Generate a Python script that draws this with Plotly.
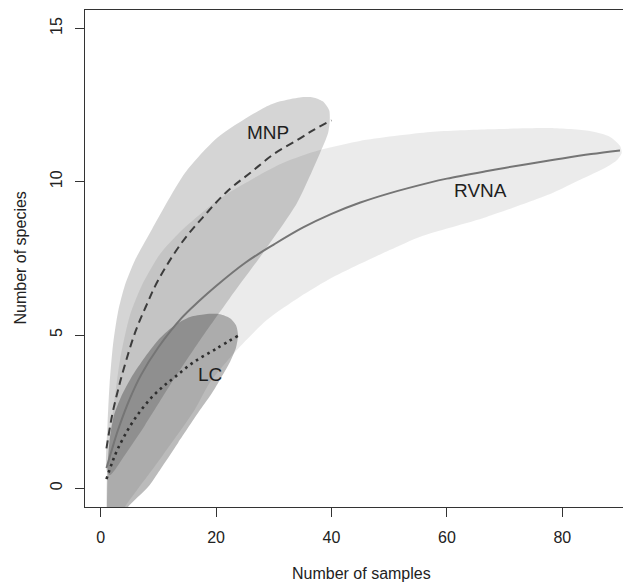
import plotly.graph_objects as go

# ---- data ----
# mean species accumulation curves
rvna_x = [1, 2, 3, 5, 7, 10, 14, 17, 20, 25, 30, 35, 40, 45, 50, 57, 60, 67, 70, 78, 80, 85, 90]
rvna_y = [0.66, 1.3, 1.9, 2.9, 3.7, 4.6, 5.55, 6.1, 6.6, 7.35, 7.95, 8.5, 8.95, 9.32, 9.62, 9.97, 10.1, 10.35, 10.45, 10.7, 10.76, 10.9, 11.02]

mnp_x = [1, 2, 3, 4, 6, 8, 10, 14, 18, 22, 26, 30, 34, 37, 40]
mnp_y = [1.3, 2.4, 3.2, 3.9, 5.1, 6.0, 6.8, 8.0, 8.9, 9.7, 10.3, 10.9, 11.35, 11.7, 12.0]

lc_x = [1, 2, 3, 5, 7, 9, 11, 13, 16, 20, 24]
lc_y = [0.3, 0.85, 1.3, 2.0, 2.55, 3.0, 3.35, 3.65, 4.1, 4.55, 5.0]

# confidence envelopes (outline)
rvna_band_x = [0.92, 1.09, 1.96, 3.34, 5.08, 7.16, 10.28, 13.74, 18.07, 22.41, 31.07, 36.8, 44.9, 57.1, 67.5, 77.9, 84.8, 88.3, 90.0, 90.3,
               89.5, 87.7, 83.1, 78.4, 66.9, 55.3, 50.1, 40.3, 34.5, 28.8, 23.6, 18.9, 16.3, 10.6, 4.2, 1.96, 0.92]
rvna_band_y = [-0.54, 0.6, 2.22, 4.18, 5.65, 6.63, 7.64, 8.36, 9.07, 9.66, 10.57, 10.97, 11.33, 11.62, 11.71, 11.75, 11.65, 11.46, 11.17, 10.94,
               10.71, 10.48, 10.06, 9.64, 8.85, 8.2, 7.77, 6.89, 6.24, 5.49, 4.51, 3.44, 2.56, 1.03, -0.61, -1.36, -1.36]

mnp_band_x = [1.0, 1.18, 1.53, 2.13, 3.0, 4.21, 5.94, 8.89, 14.6, 20.3, 28.5, 31.1, 34.5, 36.8, 38.5, 39.6, 39.7, 39.4,
              38.0, 34.0, 28.1, 22.4, 17.21, 12.01, 7.68, 4.21, 1.61, 1.0]
mnp_band_y = [0.6, 2.07, 3.37, 4.67, 5.75, 6.63, 7.44, 8.45, 10.28, 11.45, 12.43, 12.62, 12.75, 12.75, 12.62, 12.33, 12.0, 11.58,
              10.93, 9.3, 7.67, 6.21, 4.83, 3.36, 2.06, 1.09, 0.43, 0.6]

lc_band_x = [1.09, 1.18, 1.53, 2.31, 3.52, 5.25, 7.68, 10.28, 12.88, 15.48, 18.08, 20.68, 22.41, 23.45, 23.8,
             23.45, 22.41, 20.85, 19.29, 17.21, 13.4, 10.28, 8.2, 4.73, 3.34, 1.09]
lc_band_y = [-0.54, 0.6, 1.57, 2.39, 2.98, 3.6, 4.28, 4.9, 5.33, 5.59, 5.68, 5.68, 5.55, 5.32, 5.0,
             4.58, 4.12, 3.6, 3.11, 2.55, 1.48, 0.6, 0.04, -0.61, -1.03, -1.03]

labels = ["MNP", "RVNA", "LC"]
label_x = [29.0, 65.8, 19.0]
label_y = [11.6, 9.7, 3.7]

x_ticks = [0, 20, 40, 60, 80]
y_ticks = [0, 5, 10, 15]

FONT = "Liberation Sans, Arial, sans-serif"

fig = go.Figure()

# envelopes
for bx, by, col in [
    (rvna_band_x, rvna_band_y, "rgba(0,0,0,0.08)"),
    (mnp_band_x, mnp_band_y, "rgba(0,0,0,0.165)"),
    (lc_band_x, lc_band_y, "rgba(0,0,0,0.265)"),
]:
    fig.add_trace(go.Scatter(x=bx, y=by, mode="lines", fill="toself", fillcolor=col,
                             line=dict(width=0, shape="spline", smoothing=0.7),
                             hoverinfo="skip", showlegend=False))

# mean curves
fig.add_trace(go.Scatter(x=rvna_x, y=rvna_y, mode="lines",
                         line=dict(color="#757575", width=2, shape="spline"), showlegend=False))
fig.add_trace(go.Scatter(x=mnp_x, y=mnp_y, mode="lines",
                         line=dict(color="#3c3c3c", width=2, dash="8px,5px", shape="spline"), showlegend=False))
fig.add_trace(go.Scatter(x=lc_x, y=lc_y, mode="lines",
                         line=dict(color="#2e2e2e", width=2.6, dash="2.6px,4px", shape="spline"), showlegend=False))

annotations = []
for t, x, y in zip(labels, label_x, label_y):
    annotations.append(dict(x=x, y=y, xref="x", yref="y", text=t, showarrow=False,
                            font=dict(family=FONT, size=19, color="#1e1e1e")))

# the page adds an 8px body margin, so the figure is sized 8px smaller and shifted
annotations.append(dict(x=0.507, y=-0.133, xref="paper", yref="paper", text="Number of samples",
                        showarrow=False, xanchor="center", yanchor="middle",
                        font=dict(family=FONT, size=16, color="#222")))
annotations.append(dict(x=-0.119, y=0.5, xref="paper", yref="paper", text="Number of species",
                        showarrow=False, xanchor="center", yanchor="middle", textangle=-90,
                        font=dict(family=FONT, size=16, color="#222")))

fig.update_layout(
    width=623, height=574,
    margin=dict(l=77, r=0, t=2, b=75),
    paper_bgcolor="white", plot_bgcolor="white",
    annotations=annotations,
    xaxis=dict(range=[-2.72, 91.91], tickvals=x_ticks, ticks="outside", ticklen=9, tickwidth=1.2,
               tickcolor="#333", showline=True, linecolor="#333", linewidth=1.2, mirror=True,
               showgrid=False, zeroline=False, ticklabelstandoff=7,
               tickfont=dict(family=FONT, size=16, color="#222")),
    yaxis=dict(range=[-0.61, 15.6], tickvals=y_ticks, ticks="outside", ticklen=9, tickwidth=1.2,
               tickcolor="#333", showline=True, linecolor="#333", linewidth=1.2, mirror=False,
               showgrid=False, zeroline=False, tickangle=-90, ticklabelstandoff=7,
               tickfont=dict(family=FONT, size=16, color="#222")),
)

fig.write_html("out.html")
